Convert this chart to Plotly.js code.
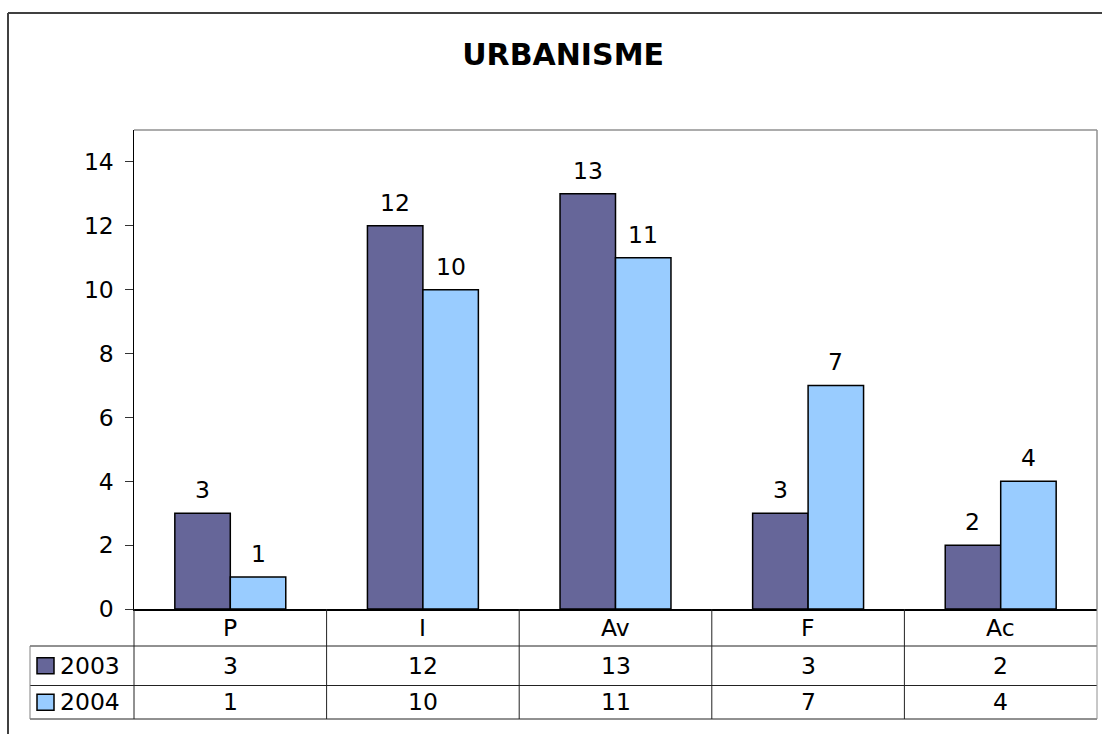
<!DOCTYPE html>
<html>
<head>
<meta charset="utf-8">
<script src="https://cdn.plot.ly/plotly-3.0.1.min.js"></script>
<style>html,body{margin:0;padding:0;background:#fff;}#chart{width:1102px;height:734px;}</style>
</head>
<body>
<div id="chart"></div>
<script>
const categories = ['P', 'I', 'Av', 'F', 'Ac'];
const values2003 = [3, 12, 13, 3, 2];
const values2004 = [1, 10, 11, 7, 4];
const seriesNames = ['2003', '2004'];
const yTickValues = [0, 2, 4, 6, 8, 10, 12, 14];

const colors = ['#666699', '#99CCFF'];
const FONT = 'DejaVu Sans, Verdana, sans-serif';
const TXT = 23.5;

// plot area in pixels
const L = 134, R = 1097, T = 130, B = 609;
const W = R - L, H = B - T;
const fx = px => (px - L) / W;
const fy = py => (B - py) / H;
const BARGAP = 0.424;

const traces = [values2003, values2004].map((vals, i) => ({
  type: 'bar',
  name: seriesNames[i],
  x: categories,
  y: vals,
  marker: {color: colors[i], line: {color: '#000', width: 1.5}},
  hoverinfo: 'x+y+name'
}));

const shapes = [];
const annotations = [];
const line = (x0, y0, x1, y1, color, width) => shapes.push({
  type: 'line', xref: 'paper', yref: 'paper',
  x0: fx(x0), y0: fy(y0), x1: fx(x1), y1: fy(y1),
  line: {color: color, width: width}
});

// value labels above bars
const catW = W / categories.length;
const barW = catW * (1 - BARGAP) / 2;
[values2003, values2004].forEach((vals, i) => {
  vals.forEach((v, k) => {
    annotations.push({xref: 'x', yref: 'y', x: categories[k], y: v,
      xshift: (i === 0 ? -1 : 1) * barW / 2, yshift: 7,
      text: String(v), showarrow: false, xanchor: 'center', yanchor: 'bottom',
      font: {family: FONT, size: TXT, color: '#000'}});
  });
});

// outer chart border (top & left)
line(8, 13, 1102, 13, '#404040', 2);
line(8, 13, 8, 734, '#404040', 2);
// plot area top & right border
line(L, T, R, T, '#909090', 1.5);
line(R, T, R, B, '#909090', 1.5);

// data table
const rowTop = [609, 646, 685.5];
const rowBot = [646, 685.5, 719];
const tableLeft = 30;
line(tableLeft, rowBot[0], R, rowBot[0], '#222', 1);
line(tableLeft, rowBot[1], R, rowBot[1], '#222', 1);
line(tableLeft, rowBot[2], R, rowBot[2], '#222', 1);
line(tableLeft, rowTop[1], tableLeft, rowBot[2], '#808080', 1);
for (let k = 0; k <= categories.length; k++) {
  const xp = L + W * k / categories.length;
  line(xp, B, xp, rowBot[2], k === categories.length ? '#909090' : '#222', 1);
}

const cellCenterX = k => fx(L + W * (k + 0.5) / categories.length);
const rowCenterY = r => fy((rowTop[r] + rowBot[r]) / 2);

categories.forEach((c, k) => {
  annotations.push({xref: 'paper', yref: 'paper', x: cellCenterX(k), y: rowCenterY(0),
    text: c, showarrow: false, xanchor: 'center', yanchor: 'middle',
    font: {family: FONT, size: TXT, color: '#000'}});
});
[values2003, values2004].forEach((vals, r) => {
  vals.forEach((v, k) => {
    annotations.push({xref: 'paper', yref: 'paper', x: cellCenterX(k), y: rowCenterY(r + 1),
      text: String(v), showarrow: false, xanchor: 'center', yanchor: 'middle',
      font: {family: FONT, size: TXT, color: '#000'}});
  });
  // legend key square
  const cy = (rowTop[r + 1] + rowBot[r + 1]) / 2;
  shapes.push({type: 'rect', xref: 'paper', yref: 'paper',
    x0: fx(37), x1: fx(54), y0: fy(cy - 8), y1: fy(cy + 8),
    fillcolor: colors[r], line: {color: '#000', width: 1.5}});
  annotations.push({xref: 'paper', yref: 'paper', x: fx(58), y: rowCenterY(r + 1),
    text: seriesNames[r], showarrow: false, xanchor: 'left', yanchor: 'middle',
    font: {family: FONT, size: TXT, color: '#000'}});
});

const layout = {
  width: 1102, height: 734,
  margin: {l: L, r: 1102 - R, t: T, b: 734 - B, pad: 0},
  paper_bgcolor: '#fff', plot_bgcolor: '#fff',
  showlegend: false,
  barmode: 'group', bargap: BARGAP, bargroupgap: 0,
  title: {text: '<b>URBANISME</b>', font: {family: FONT, size: 30, color: '#000'},
    xref: 'container', yref: 'container', x: 0.511, y: 1 - 54 / 734,
    xanchor: 'center', yanchor: 'middle'},
  xaxis: {type: 'category', range: [-0.5, 4.5], showticklabels: false, ticks: '',
    showgrid: false, zeroline: false, showline: true, linecolor: '#000', linewidth: 2,
    fixedrange: true},
  yaxis: {range: [0, 15], tickvals: yTickValues, ticktext: yTickValues.map(String),
    ticks: 'outside', ticklen: 8, tickcolor: '#333', tickwidth: 1,
    ticklabelstandoff: 6,
    tickfont: {family: FONT, size: TXT, color: '#000'},
    showgrid: false, zeroline: false, showline: true, linecolor: '#000', linewidth: 1.5,
    fixedrange: true},
  shapes: shapes,
  annotations: annotations
};

Plotly.newPlot('chart', traces, layout, {displayModeBar: false, staticPlot: true});
</script>
</body>
</html>
